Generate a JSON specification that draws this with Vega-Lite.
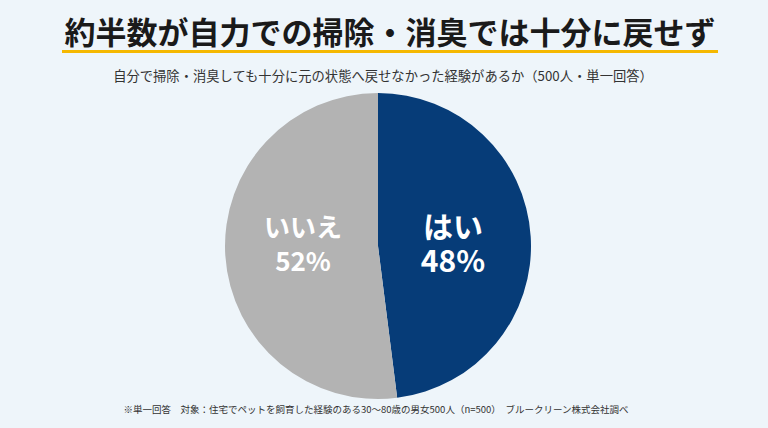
{
  "$schema": "https://vega.github.io/schema/vega-lite/v6.json",
  "background": "#eef5fa",
  "padding": {"left": 62, "top": 18, "right": 50, "bottom": 14},
  "config": {
    "font": "Noto Sans CJK JP",
    "view": {"stroke": null},
    "concat": {"spacing": 12}
  },
  "title": {
    "text": "※単一回答　対象：住宅でペットを飼育した経験のある30〜80歳の男女500人（n=500）　ブルークリーン株式会社調べ",
    "orient": "bottom",
    "anchor": "middle",
    "fontSize": 9.5,
    "fontWeight": "normal",
    "color": "#333333",
    "offset": 6,
    "dx": -14
  },
  "data": {
    "values": [
      {"answer": "はい", "value": 48, "pct": "48%", "order": 1},
      {"answer": "いいえ", "value": 52, "pct": "52%", "order": 2}
    ]
  },
  "vconcat": [
    {
      "width": 656,
      "height": 3,
      "view": {"fill": "#f5b800", "stroke": null},
      "title": {
        "text": "約半数が自力での掃除・消臭では十分に戻せず",
        "fontSize": 31,
        "fontWeight": "bold",
        "color": "#1a1a1a",
        "offset": -5
      },
      "mark": {"type": "text"},
      "encoding": {"text": {"value": ""}}
    },
    {
      "width": 632,
      "height": 306,
      "title": {
        "text": "自分で掃除・消臭しても十分に元の状態へ戻せなかった経験があるか（500人・単一回答）",
        "fontSize": 13.3,
        "fontWeight": "normal",
        "color": "#333333",
        "offset": 10,
        "dx": 5
      },
      "encoding": {
        "theta": {"field": "value", "type": "quantitative", "stack": true},
        "order": {"field": "order", "type": "quantitative"}
      },
      "layer": [
        {
          "mark": {"type": "arc", "outerRadius": 153},
          "encoding": {
            "color": {
              "field": "answer",
              "type": "nominal",
              "scale": {"domain": ["はい", "いいえ"], "range": ["#063c78", "#b3b3b3"]},
              "legend": null
            }
          }
        },
        {
          "mark": {"type": "text", "radius": 75, "thetaOffset": 0.063, "dy": -17, "fontWeight": "bold", "color": "white"},
          "encoding": {
            "text": {"field": "answer"},
            "size": {
              "field": "answer",
              "type": "nominal",
              "scale": {"domain": ["はい", "いいえ"], "range": [30, 26]},
              "legend": null
            }
          }
        },
        {
          "mark": {"type": "text", "radius": 75, "thetaOffset": 0.063, "dy": 17, "fontWeight": "bold", "color": "white"},
          "encoding": {
            "text": {"field": "pct"},
            "size": {
              "field": "answer",
              "type": "nominal",
              "scale": {"domain": ["はい", "いいえ"], "range": [30, 26]},
              "legend": null
            }
          }
        }
      ]
    }
  ]
}
